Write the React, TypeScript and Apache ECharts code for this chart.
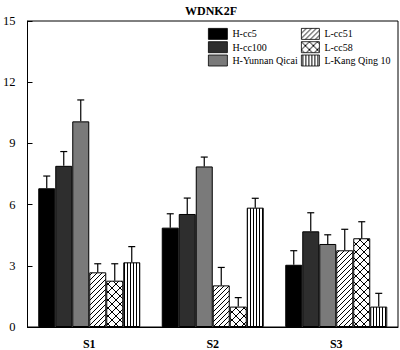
import React, { useEffect, useRef } from "react";
import * as echarts from "echarts";

const categories = ["S1", "S2", "S3"];
const seriesNames = ["H-cc5", "H-cc100", "H-Yunnan Qicai", "L-cc51", "L-cc58", "L-Kang Qing 10"];

const hcc5 = [6.8, 4.87, 3.05];
const hcc100 = [7.9, 5.54, 4.69];
const hYunnan = [10.08, 7.87, 4.07];
const lcc51 = [2.68, 2.04, 3.76];
const lcc58 = [2.27, 1.0, 4.35];
const lKang = [3.17, 5.85, 1.0];

const hcc5Err = [0.6, 0.68, 0.69];
const hcc100Err = [0.7, 0.78, 0.91];
const hYunnanErr = [1.05, 0.46, 0.45];
const lcc51Err = [0.42, 0.88, 1.03];
const lcc58Err = [0.83, 0.44, 0.81];
const lKangErr = [0.77, 0.46, 0.65];

const yTicks = [0, 3, 6, 9, 12, 15];

const values = [hcc5, hcc100, hYunnan, lcc51, lcc58, lKang];
const errors = [hcc5Err, hcc100Err, hYunnanErr, lcc51Err, lcc58Err, lKangErr];

const FONT = "'Liberation Serif', 'Times New Roman', serif";
const BAR_W = 17;

function makePattern(kind: string): string {
  const c = document.createElement("canvas");
  const size = kind === "cross" ? 8 : kind === "diag" ? 5 : 3;
  c.width = size;
  c.height = kind === "vert" ? 1 : size;
  const ctx = c.getContext("2d")!;
  ctx.fillStyle = "#fff";
  ctx.fillRect(0, 0, c.width, c.height);
  ctx.strokeStyle = "#000";
  ctx.lineWidth = 1;
  ctx.beginPath();
  if (kind === "diag") {
    ctx.moveTo(-1, 1); ctx.lineTo(1, -1);
    ctx.moveTo(0, size); ctx.lineTo(size, 0);
    ctx.moveTo(size - 1, size + 1); ctx.lineTo(size + 1, size - 1);
  } else if (kind === "cross") {
    ctx.moveTo(0, 0); ctx.lineTo(size, size);
    ctx.moveTo(0, size); ctx.lineTo(size, 0);
  } else {
    ctx.moveTo(1.5, 0); ctx.lineTo(1.5, 1);
  }
  ctx.stroke();
  return c.toDataURL();
}

export default function App() {
  const ref = useRef<HTMLDivElement>(null);

  useEffect(() => {
    if (!ref.current) return;
    const chart = echarts.init(ref.current, null, { renderer: "svg" });

    const fills: any[] = [
      "#000000",
      "#2e2e2e",
      "#7a7a7a",
      { image: makePattern("diag"), repeat: "repeat" },
      { image: makePattern("cross"), repeat: "repeat" },
      { image: makePattern("vert"), repeat: "repeat" },
    ];

    const barSeries = seriesNames.map((name, i) => ({
      name,
      type: "bar",
      data: values[i],
      barWidth: BAR_W,
      barGap: "0%",
      itemStyle: { color: fills[i], borderColor: "#000", borderWidth: 1 },
      z: 2,
    }));

    const errData: number[][] = [];
    values.forEach((vals, s) => {
      vals.forEach((v, c) => errData.push([c, v, errors[s][c], s]));
    });

    const errSeries = {
      type: "custom",
      name: "err",
      data: errData,
      z: 3,
      silent: true,
      renderItem: (params: any, api: any) => {
        const c = api.value(0);
        const v = api.value(1);
        const e = api.value(2);
        const s = api.value(3);
        const off = (s - 2.5) * BAR_W;
        const base = api.coord([c, v]);
        const top = api.coord([c, v + e]);
        const x = base[0] + off;
        const style = { stroke: "#000", lineWidth: 1.2 };
        return {
          type: "group",
          children: [
            { type: "line", shape: { x1: x, y1: base[1], x2: x, y2: top[1] }, style },
            { type: "line", shape: { x1: x - 3.5, y1: top[1], x2: x + 3.5, y2: top[1] }, style },
          ],
        };
      },
    };

    const legendCommon = {
      orient: "vertical",
      itemWidth: 19,
      itemHeight: 11,
      itemGap: 1.5,
      icon: "rect",
      textStyle: { fontFamily: FONT, fontSize: 10, color: "#000" },
      itemStyle: { borderColor: "#000", borderWidth: 0.8 },
      padding: 0,
    };

    chart.setOption({
      animation: false,
      title: {
        text: "WDNK2F",
        left: 180,
        top: 0,
        textStyle: { fontFamily: FONT, fontSize: 12, fontWeight: "bold", color: "#000" },
      },
      legend: [
        { ...legendCommon, data: seriesNames.slice(0, 3), left: 208, top: 28 },
        { ...legendCommon, data: seriesNames.slice(3), left: 301, top: 28, itemWidth: 18 },
      ],
      grid: {
        left: 23,
        right: 2,
        top: 21,
        bottom: 23,
        show: true,
        borderColor: "#000",
        borderWidth: 1,
      },
      xAxis: {
        type: "category",
        data: categories,
        axisLine: { lineStyle: { color: "#000", width: 1 } },
        axisTick: { show: false },
        axisLabel: {
          fontFamily: FONT,
          fontSize: 12,
          fontWeight: "bold",
          color: "#000",
          margin: 11,
        },
      },
      yAxis: {
        type: "value",
        min: yTicks[0],
        max: yTicks[yTicks.length - 1],
        interval: 3,
        axisLine: { show: true, lineStyle: { color: "#000", width: 1 } },
        axisTick: { show: true, inside: true, length: 5, lineStyle: { color: "#000" } },
        splitLine: { show: false },
        axisLabel: { fontFamily: FONT, fontSize: 12.5, color: "#000", margin: 12 },
      },
      series: [...barSeries, errSeries],
    });

    return () => chart.dispose();
  }, []);

  return (
    <div
      ref={ref}
      style={{ position: "fixed", left: 0, top: 0, width: 400, height: 350, background: "#fff" }}
    />
  );
}
